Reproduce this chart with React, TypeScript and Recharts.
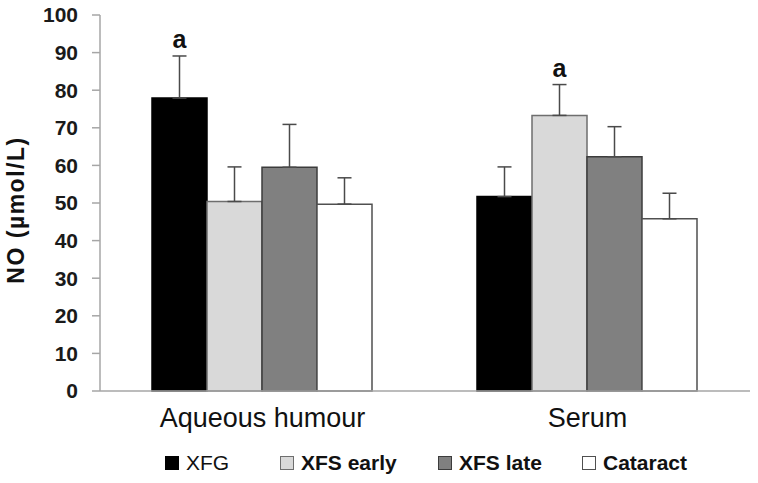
import { BarChart, Bar, XAxis, YAxis, ErrorBar, LabelList } from "recharts";

const categories = ["Aqueous humour", "Serum"];
const xfg = [77.9, 51.7];
const xfsEarly = [50.4, 73.3];
const xfsLate = [59.5, 62.3];
const cataract = [49.7, 45.8];
const xfgErr = [11.2, 7.9];
const xfsEarlyErr = [9.2, 8.2];
const xfsLateErr = [11.4, 8.0];
const cataractErr = [7.0, 6.8];
const xfgSig = ["a", ""];
const xfsEarlySig = ["", "a"];
const yTicks = [0, 10, 20, 30, 40, 50, 60, 70, 80, 90, 100];

const series = [
  { key: "xfg", name: "XFG", fill: "#000000", stroke: "#000000", bold: false },
  { key: "xfsEarly", name: "XFS early", fill: "#d9d9d9", stroke: "#6e6e6e", bold: true },
  { key: "xfsLate", name: "XFS late", fill: "#808080", stroke: "#3c3c3c", bold: true },
  { key: "cataract", name: "Cataract", fill: "#ffffff", stroke: "#505050", bold: true },
];

// left edge of each legend entry, like the Excel legend
const legendLeft = [165, 280, 438, 582];

const data = categories.map((name, i) => ({
  name,
  xfg: xfg[i],
  xfsEarly: xfsEarly[i],
  xfsLate: xfsLate[i],
  cataract: cataract[i],
  xfgErr: [0, xfgErr[i]],
  xfsEarlyErr: [0, xfsEarlyErr[i]],
  xfsLateErr: [0, xfsLateErr[i]],
  cataractErr: [0, cataractErr[i]],
  xfgSig: xfgSig[i],
  xfsEarlySig: xfsEarlySig[i],
}));

const FONT = "Arial, 'Liberation Sans', sans-serif";

// "a" marker placed above the error bar
function sigLabel(errs: number[], vals: number[]) {
  return (props: any) => {
    const { x, y, width, height, value, index } = props;
    if (!value) return null;
    const perUnit = height / vals[index];
    const top = y - errs[index] * perUnit;
    return (
      <text
        x={x + width / 2}
        y={top - 8}
        textAnchor="middle"
        fontFamily={FONT}
        fontSize={25}
        fontWeight="bold"
        fill="#111"
      >
        {value}
      </text>
    );
  };
}

function CategoryTick(props: any) {
  const { x, y, payload } = props;
  return (
    <text x={x} y={y + 28} textAnchor="middle" fontFamily={FONT} fontSize={27} fill="#111">
      {payload.value}
    </text>
  );
}

export default function App() {
  return (
    <div style={{ position: "absolute", left: 0, top: 0, width: 758, height: 483, background: "#fff" }}>
      <BarChart
        width={758}
        height={483}
        data={data}
        margin={{ top: 15, right: 8, left: 0, bottom: 0 }}
        barCategoryGap="16%"
        barGap={0}
      >
        <XAxis
          dataKey="name"
          axisLine={{ stroke: "#a6a6a6", strokeWidth: 1.5 }}
          tickLine={false}
          tick={<CategoryTick />}
          height={92}
        />
        <YAxis
          domain={[0, 100]}
          ticks={yTicks}
          width={100}
          interval={0}
          axisLine={{ stroke: "#a6a6a6", strokeWidth: 1.5 }}
          tickLine={{ stroke: "#a6a6a6", strokeWidth: 1.5 }}
          tickSize={8}
          tickMargin={14}
          tick={{ fontFamily: FONT, fontSize: 21, fontWeight: "bold", fill: "#1a1a1a" }}
          label={{
            content: () => (
              <text
                transform="translate(24,210) rotate(-90)"
                textAnchor="middle"
                fontFamily={FONT}
                fontSize={23}
                fontWeight="bold"
                letterSpacing={1.5}
                fill="#111"
              >
                NO (µmol/L)
              </text>
            ),
          }}
        />
        {series.map((s) => (
          <Bar
            key={s.key}
            dataKey={s.key}
            name={s.name}
            fill={s.fill}
            stroke={s.stroke}
            strokeWidth={1.5}
            isAnimationActive={false}
          >
            <ErrorBar dataKey={s.key + "Err"} width={7} stroke="#4a4a4a" strokeWidth={1.5} />
            {s.key === "xfg" && (
              <LabelList dataKey="xfgSig" content={sigLabel(xfgErr, xfg)} />
            )}
            {s.key === "xfsEarly" && (
              <LabelList dataKey="xfsEarlySig" content={sigLabel(xfsEarlyErr, xfsEarly)} />
            )}
          </Bar>
        ))}
      </BarChart>
      {series.map((s, i) => (
        <div
          key={s.key}
          style={{
            position: "absolute",
            top: 451,
            left: legendLeft[i],
            display: "flex",
            alignItems: "center",
            fontFamily: FONT,
            fontSize: 21,
            lineHeight: "24px",
            color: "#111",
            whiteSpace: "nowrap",
          }}
        >
          <span
            style={{
              display: "inline-block",
              width: 12,
              height: 12,
              background: s.fill,
              border: `1px solid ${s.stroke}`,
              marginRight: 7,
            }}
          />
          <span style={{ fontWeight: s.bold ? "bold" : "normal" }}>{s.name}</span>
        </div>
      ))}
    </div>
  );
}
